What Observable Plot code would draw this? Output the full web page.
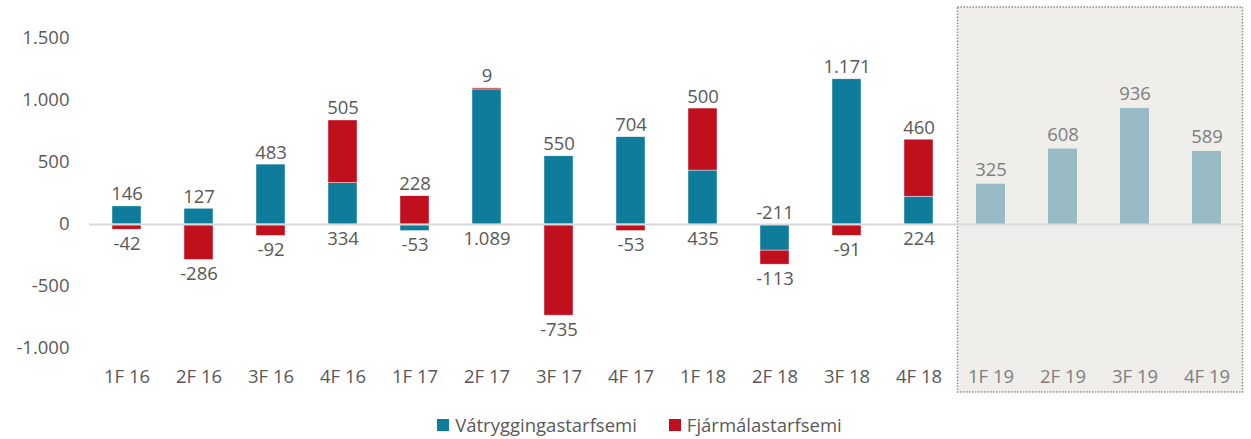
<!DOCTYPE html>
<html>
<head>
<meta charset="utf-8">
<script src="https://cdn.jsdelivr.net/npm/d3@7"></script>
<script src="https://cdn.jsdelivr.net/npm/@observablehq/plot@0.6"></script>
<style>
  body { margin: 0; background: #fff; font-family: "Open Sans", sans-serif; }
  #chart svg { display: block; }
  #legend { display: flex; justify-content: center; align-items: center; gap: 32px;
            height: 39px; padding-left: 28px; box-sizing: border-box; padding-top: 10px;
            font-size: 18.5px; color: #595959; }
  .item { display: flex; align-items: center; gap: 6px; }
  .sw { width: 12px; height: 12px; display: inline-block; }
</style>
</head>
<body>
<div id="chart"></div>
<div id="legend"></div>
<script>
// ---- data ----
const quarters = ["1F 16","2F 16","3F 16","4F 16","1F 17","2F 17","3F 17","4F 17","1F 18","2F 18","3F 18","4F 18"];
const vatrygging = [146, 127, 483, 334, -53, 1089, 550, 704, 435, -211, 1171, 224];
const fjarmala   = [-42, -286, -92, 505, 228, 9, -735, -53, 500, -113, -91, 460];
const forecastQuarters = ["1F 19","2F 19","3F 19","4F 19"];
const forecastValues = [325, 608, 936, 589];
const seriesNames = ["Vátryggingastarfsemi", "Fjármálastarfsemi"];
const seriesColors = ["#107c9b", "#c00f1d"];
const yTicks = [-1000, -500, 0, 500, 1000, 1500];

const allQuarters = quarters.concat(forecastQuarters);
const locale = d3.formatLocale({decimal: ",", thousands: ".", grouping: [3], currency: ["", " kr."], minus: "-"});
const fmt = locale.format(",d");

// long table for stacked bars
const rows = [];
quarters.forEach((q, i) => {
  rows.push({q, series: seriesNames[0], value: vatrygging[i]});
  rows.push({q, series: seriesNames[1], value: fjarmala[i]});
});
// label table: top label = outer positive segment, bottom = outer negative segment
const labels = quarters.map((q, i) => {
  const v = vatrygging[i], f = fjarmala[i];
  const pos = Math.max(v, 0) + Math.max(f, 0);
  const neg = Math.min(v, 0) + Math.min(f, 0);
  return {q, top: f > 0 ? f : v, bottom: f < 0 ? f : v, pos, neg};
});
const forecast = forecastQuarters.map((q, i) => ({q, value: forecastValues[i]}));

const textColor = "#595959";
const greyText = "#7f7f7f";
const fs = 18.5;

function forecastBox(index, scales, values, dimensions) {
  const x = scales.x;
  const bw = x.bandwidth();
  const step = x(forecastQuarters[1]) - x(forecastQuarters[0]);
  const x0 = x(forecastQuarters[0]) + bw / 2 - step / 2 + 3;
  const x1 = x(forecastQuarters[forecastQuarters.length - 1]) + bw / 2 + step / 2;
  const y0 = dimensions.marginTop - 31;
  const y1 = dimensions.height - 8;
  const r = document.createElementNS("http://www.w3.org/2000/svg", "rect");
  r.setAttribute("x", x0); r.setAttribute("y", y0);
  r.setAttribute("width", x1 - x0); r.setAttribute("height", y1 - y0);
  r.setAttribute("fill", "#efeeeb");
  r.setAttribute("stroke", "#8f8f8f");
  r.setAttribute("stroke-width", 1.5);
  r.setAttribute("stroke-dasharray", "1.5,1.5");
  return r;
}

const plot = Plot.plot({
  width: 1251,
  height: 400,
  marginLeft: 89,
  marginRight: 8,
  marginTop: 38,
  marginBottom: 52,
  style: {fontFamily: "'Open Sans', sans-serif", fontSize: fs + "px", color: textColor, background: "transparent"},
  x: {type: "band", domain: allQuarters, paddingInner: 0.6, paddingOuter: 0.3, axis: null},
  y: {domain: [-1000, 1500], axis: null},
  color: {domain: seriesNames, range: seriesColors},
  marks: [
    forecastBox,
    Plot.axisY({ticks: yTicks, tickSize: 0, tickPadding: 20, tickFormat: fmt, fill: textColor, fontSize: fs}),
    Plot.barY(rows, {x: "q", y: "value", fill: "series", stroke: "#ffffff", strokeWidth: 0.6, strokeOpacity: 0.7}),
    Plot.barY(forecast, {x: "q", y: "value", fill: "#98bbc6"}),
    Plot.ruleY([0], {stroke: "#d9d9d9", strokeWidth: 2}),
    Plot.text(labels, {x: "q", y: "pos", text: d => fmt(d.top), lineAnchor: "bottom", dy: -6, fill: textColor, fontSize: fs}),
    Plot.text(labels, {x: "q", y: "neg", text: d => fmt(d.bottom), lineAnchor: "top", dy: 7, fill: textColor, fontSize: fs}),
    Plot.text(forecast, {x: "q", y: "value", text: d => fmt(d.value), lineAnchor: "bottom", dy: -8, fill: greyText, fontSize: fs}),
    Plot.text(allQuarters, {x: d => d, frameAnchor: "bottom", lineAnchor: "middle", dy: 29,
      fill: d => forecastQuarters.includes(d) ? greyText : textColor, fontSize: fs})
  ]
});
document.getElementById("chart").appendChild(plot);

const legend = document.getElementById("legend");
seriesNames.forEach((name, i) => {
  const item = document.createElement("span");
  item.className = "item";
  const sw = document.createElement("span");
  sw.className = "sw";
  sw.style.background = seriesColors[i];
  const t = document.createElement("span");
  t.textContent = name;
  item.appendChild(sw); item.appendChild(t);
  legend.appendChild(item);
});
</script>
</body>
</html>
